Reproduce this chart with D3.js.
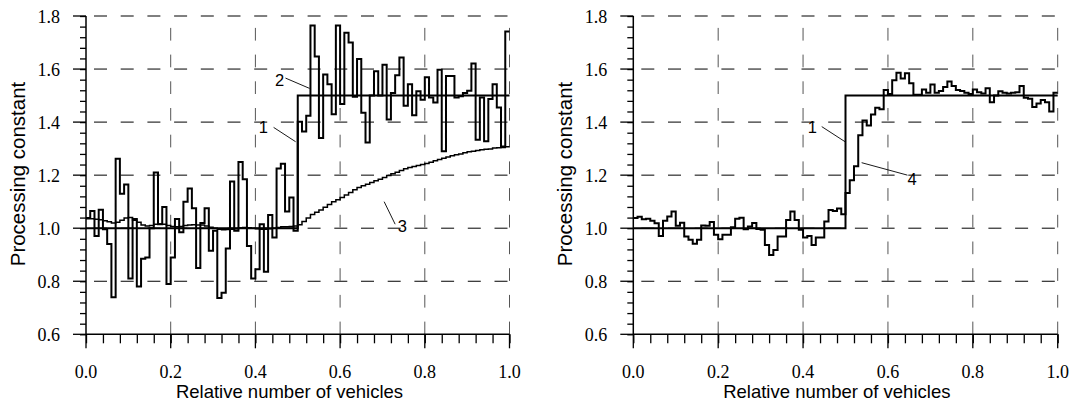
<!DOCTYPE html>
<html>
<head>
<meta charset="utf-8">
<script src="https://cdn.jsdelivr.net/npm/d3@7"></script>
<style>
  body { margin: 0; background: #fff; }
  svg { display: block; }
  .tick-label { font-family: "Liberation Serif", "Times New Roman", serif; font-size: 18px; fill: #000; }
  .axis-title { font-family: "Liberation Sans", Arial, sans-serif; fill: #000; }
  .curve-label { font-family: "Liberation Sans", Arial, sans-serif; font-size: 16.5px; fill: #000; }
</style>
</head>
<body>
<svg id="chart" width="1071" height="403"></svg>
<script>
/* Two panels: processing constant vs relative number of vehicles */

const xTicks = [0, 0.2, 0.4, 0.6, 0.8, 1.0];
const yTicks = [0.6, 0.8, 1.0, 1.2, 1.4, 1.6, 1.8];
const binWidth = 0.01;

// curve 1: the ideal step (same in both panels)
const step1X = [0, 0.5, 1.0];
const step1Y = [1.0, 1.5, 1.5];

// curve 2: left panel, noisy estimate, one value per 0.01 bin
const curve2 = [
  1.038, 1.065, 0.971, 1.07, 0.996, 0.94, 0.74, 1.262, 1.13, 1.165,
  0.81, 1.035, 0.78, 0.885, 0.89, 1.0, 1.21, 1.015, 1.08, 0.79,
  0.89, 1.035, 0.985, 1.10, 1.15, 1.075, 0.85, 1.02, 1.075, 0.915,
  0.99, 0.737, 0.757, 0.923, 1.176, 0.99, 1.25, 1.185, 0.933, 0.81,
  0.845, 1.015, 0.836, 1.05, 0.965, 1.225, 1.243, 1.063, 1.116, 0.99,
  1.401, 1.365, 1.424, 1.764, 1.647, 1.34, 1.579, 1.543, 1.43, 1.764,
  1.468, 1.737, 1.70, 1.496, 1.638, 1.435, 1.323, 1.50, 1.592, 1.50,
  1.616, 1.41, 1.51, 1.577, 1.644, 1.462, 1.543, 1.426, 1.516, 1.484,
  1.569, 1.493, 1.474, 1.597, 1.29, 1.574, 1.574, 1.493, 1.497, 1.51,
  1.518, 1.621, 1.333, 1.493, 1.328, 1.487, 1.543, 1.455, 1.308, 1.742
];

// curve 3: left panel, slow estimate
const curve3 = [
  1.036, 1.036, 1.034, 1.032, 1.028, 1.024, 1.02, 1.022, 1.03, 1.038,
  1.04, 1.03, 1.022, 1.012, 1.008, 1.01, 1.015, 1.016, 1.015, 1.01,
  1.006, 1.005, 1.006, 1.01, 1.012, 1.013, 1.012, 1.012, 1.008, 1.004,
  1.0, 0.996, 0.994, 0.995, 0.996, 0.998, 1.002, 1.003, 1.002, 1.0,
  0.998, 0.996, 0.996, 0.998, 1.0, 1.003, 1.005, 1.005, 1.006, 1.008,
  1.013, 1.025, 1.038, 1.052, 1.06, 1.069, 1.079, 1.089, 1.10, 1.107,
  1.116, 1.125, 1.135, 1.145, 1.153, 1.16, 1.166, 1.172, 1.179, 1.185,
  1.191, 1.199, 1.205, 1.211, 1.218, 1.224, 1.229, 1.233, 1.236, 1.24,
  1.244, 1.249, 1.254, 1.259, 1.264, 1.268, 1.273, 1.277, 1.28, 1.284,
  1.288, 1.29, 1.293, 1.296, 1.298, 1.299, 1.302, 1.303, 1.304, 1.307
];

// curve 4: right panel estimate
const curve4 = [
  1.038, 1.043, 1.034, 1.036, 1.028, 1.019, 0.971, 1.028, 1.044, 1.063,
  1.009, 1.021, 0.969, 0.956, 0.941, 0.956, 1.01, 1.009, 1.023, 0.975,
  0.958, 0.975, 0.975, 1.004, 1.036, 1.039, 0.996, 1.006, 1.02, 0.997,
  0.994, 0.937, 0.899, 0.918, 0.969, 0.969, 1.031, 1.063, 1.031, 0.994,
  0.965, 0.971, 0.937, 0.965, 0.965, 1.025, 1.069, 1.065, 1.074, 1.053,
  1.133, 1.181, 1.234, 1.35, 1.406, 1.387, 1.429, 1.454, 1.448, 1.521,
  1.506, 1.558, 1.586, 1.564, 1.584, 1.546, 1.503, 1.503, 1.523, 1.511,
  1.542, 1.511, 1.517, 1.532, 1.553, 1.536, 1.521, 1.517, 1.511, 1.506,
  1.523, 1.513, 1.508, 1.528, 1.475, 1.50, 1.516, 1.511, 1.508, 1.511,
  1.513, 1.536, 1.492, 1.488, 1.457, 1.47, 1.483, 1.475, 1.44, 1.511
];

// curve number labels, in data units: [text, labelX, labelY, leaderX1, leaderY1, leaderX2, leaderY2]
const leftLabels = [
  ['1', 0.419, 1.358, 0.443, 1.380, 0.495, 1.326],
  ['2', 0.457, 1.536, 0.471, 1.566, 0.528, 1.527],
  ['3', 0.747, 0.987, 0.704, 1.100, 0.730, 1.015]
];
const rightLabels = [
  ['1', 0.422, 1.360, 0.444, 1.383, 0.499, 1.326],
  ['4', 0.657, 1.163, 0.538, 1.247, 0.646, 1.200]
];

const svg = d3.select('#chart');
svg.append('rect').attr('width', 1071).attr('height', 403).attr('fill', '#fff');

function binsToPoints(values) {
  const pts = values.map((v, i) => [i * binWidth, v]);
  pts.push([values.length * binWidth, values[values.length - 1]]);
  return pts;
}

function drawPanel(x0, x1, curves, labels) {
  const x = d3.scaleLinear().domain([0, 1]).range([x0, x1]);
  const y = d3.scaleLinear().domain([0.6, 1.8]).range([334.3, 16]);
  const g = svg.append('g');

  // grid
  g.append('g').selectAll('line').data(yTicks.slice(1)).join('line')
    .attr('x1', x(0) + 8).attr('x2', x(1))
    .attr('y1', d => y(d)).attr('y2', d => y(d))
    .attr('stroke', '#000').attr('stroke-width', 1)
    .attr('stroke-dasharray', '13 13.7');
  g.append('g').selectAll('line').data(xTicks.slice(1)).join('line')
    .attr('x1', d => x(d)).attr('x2', d => x(d))
    .attr('y1', y(0.6)).attr('y2', y(1.8))
    .attr('stroke', '#555').attr('stroke-width', 1)
    .attr('stroke-dasharray', '12.7 14');

  // axes with minor ticks
  const minor = d3.range(0, 31).map(i => i * 0.04);
  const xAxis = d3.axisBottom(x).tickValues(minor.filter(v => v <= 1.0001)).tickSize(9).tickFormat('');
  const xg = g.append('g').attr('transform', `translate(0,${y(0.6)})`).call(xAxis);
  xg.select('.domain').remove();
  xg.selectAll('line').attr('stroke', '#000').attr('stroke-width', 1.3);
  xg.append('g').selectAll('line').data(xTicks).join('line')
    .attr('x1', d => x(d)).attr('x2', d => x(d)).attr('y1', 0).attr('y2', 14)
    .attr('stroke', '#000').attr('stroke-width', 1.3);
  g.append('line').attr('x1', x(0)).attr('x2', x(1)).attr('y1', y(0.6)).attr('y2', y(0.6))
    .attr('stroke', '#000').attr('stroke-width', 1.5);

  const yMinor = d3.range(0, 31).map(i => 0.6 + i * 0.04);
  const yAxis = d3.axisLeft(y).tickValues(yMinor).tickSize(6).tickFormat('');
  const yg = g.append('g').attr('transform', `translate(${x(0)},0)`).call(yAxis);
  yg.select('.domain').remove();
  yg.selectAll('line').attr('stroke', '#000').attr('stroke-width', 1.3);
  yg.append('g').selectAll('line').data(yTicks).join('line')
    .attr('x1', -13).attr('x2', 0).attr('y1', d => y(d)).attr('y2', d => y(d))
    .attr('stroke', '#000').attr('stroke-width', 1.3);
  g.append('line').attr('x1', x(0)).attr('x2', x(0)).attr('y1', y(0.6)).attr('y2', y(1.8))
    .attr('stroke', '#000').attr('stroke-width', 1.5);

  // tick labels
  g.append('g').selectAll('text').data(xTicks).join('text')
    .attr('class', 'tick-label')
    .attr('x', d => x(d)).attr('y', 378.3)
    .attr('text-anchor', 'middle')
    .text(d3.format('.1f'));
  g.append('g').selectAll('text').data(yTicks).join('text')
    .attr('class', 'tick-label')
    .attr('x', x(0) - 26).attr('y', d => y(d) + 6.5)
    .attr('text-anchor', 'end')
    .text(d3.format('.1f'));

  // titles
  g.append('text').attr('class', 'axis-title')
    .attr('x', x0 + 203.5).attr('y', 398)
    .attr('text-anchor', 'middle').style('font-size', '18.5px')
    .text('Relative number of vehicles');
  g.append('text').attr('class', 'axis-title')
    .attr('transform', `translate(${x0 - 61},174) rotate(-90)`)
    .attr('text-anchor', 'middle').style('font-size', '20.5px')
    .text('Processing constant');

  // curves
  const line = d3.line().x(d => x(d[0])).y(d => y(d[1])).curve(d3.curveStepAfter);
  curves.forEach(c => {
    g.append('path').attr('d', line(c.points))
      .attr('fill', 'none').attr('stroke', '#000')
      .attr('stroke-width', c.width).attr('stroke-linejoin', 'miter');
  });

  // curve number labels
  labels.forEach(l => {
    g.append('line')
      .attr('x1', x(l[3])).attr('y1', y(l[4])).attr('x2', x(l[5])).attr('y2', y(l[6]))
      .attr('stroke', '#000').attr('stroke-width', 0.9);
    g.append('text').attr('class', 'curve-label')
      .attr('x', x(l[1])).attr('y', y(l[2]))
      .attr('text-anchor', 'middle')
      .text(l[0]);
  });
}

const step1 = step1X.map((v, i) => [v, step1Y[i]]);

drawPanel(86, 509.5, [
  { points: binsToPoints(curve3), width: 1.5 },
  { points: step1, width: 2 },
  { points: binsToPoints(curve2), width: 2 }
], leftLabels);

drawPanel(633.3, 1057.7, [
  { points: step1, width: 2 },
  { points: binsToPoints(curve4), width: 2 }
], rightLabels);
</script>
</body>
</html>
